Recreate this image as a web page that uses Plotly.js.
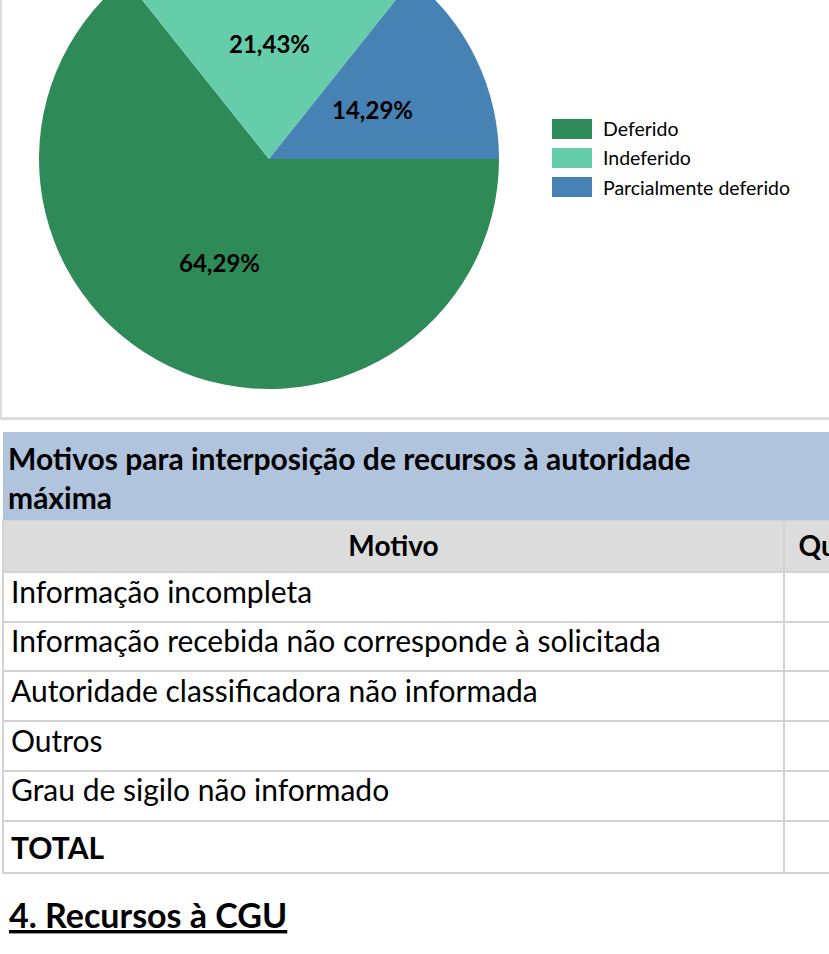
<!DOCTYPE html>
<html><head><meta charset="utf-8">
<script src="https://cdn.plot.ly/plotly-3.0.1.min.js"></script>
<style>
html,body{margin:0;padding:0;width:829px;height:954px;overflow:hidden;background:#fff;}
#chart{position:absolute;left:0;top:-71px;width:1000px;height:1025px;}
</style></head><body><div id="chart"></div>
<script>
// ---- data ----
const statusLabels = ['Deferido', 'Indeferido', 'Parcialmente deferido'];
const statusValues = [9, 3, 2];
const statusColors = ['#2e8b57', '#66cdaa', '#4682b4'];
const tableTitle = 'Motivos para interposição de recursos à autoridade<br>máxima';
const columnHeaders = ['Motivo', 'Quantidade'];
const motivos = ['Informação incompleta', 'Informação recebida não corresponde à solicitada',
  'Autoridade classificadora não informada', 'Outros', 'Grau de sigilo não informado', '<b>TOTAL</b>'];
const quantidades = ['', '', '', '', '', ''];
const sectionHeading = '4. Recursos à CGU';

// ---- layout helpers (page px -> paper) ----
const W = 1000, H = 1025, T = 71;
const px = x => x / W, py = y => 1 - (y + T) / H;
const FONT = 'Lato, "Open Sans", sans-serif';

// pie geometry (page px)
const PIE_L = 39, PIE_R = 499, PIE_T = -71, PIE_B = 389;
const pcx = (PIE_L + PIE_R) / 2, pcy = (PIE_T + PIE_B) / 2, pr = (PIE_R - PIE_L) / 2;

const pie = {
  type: 'pie', labels: statusLabels, values: statusValues,
  marker: {colors: statusColors, line: {width: 0}},
  sort: false, direction: 'clockwise', rotation: 90,
  textinfo: 'none',
  domain: {x: [px(PIE_L), px(PIE_R)], y: [py(PIE_B), py(PIE_T)]},
  showlegend: false, hoverinfo: 'none'
};

const table = {
  type: 'table',
  domain: {x: [px(3), px(960)], y: [py(876), py(520)]},
  columnwidth: [781, 176],
  header: {values: columnHeaders.map(h => '<b>' + h + '</b>'), align: 'center', height: 52,
    fill: {color: '#dcdcdc'}, line: {color: '#d3d3d3', width: 2},
    font: {family: FONT, size: 28, color: '#000'}},
  cells: {values: [motivos, quantidades], align: ['left', 'center'], height: 49.7,
    fill: {color: '#fff'}, line: {color: '#d3d3d3', width: 2},
    font: {family: FONT, size: 30, color: '#000'}}
};

const shapes = [
  {type: 'line', xref: 'paper', yref: 'paper', x0: px(1), x1: px(1), y0: py(-71), y1: py(418), line: {color: '#dcdcdc', width: 2}},
  {type: 'line', xref: 'paper', yref: 'paper', x0: 0, x1: 1, y0: py(418.5), y1: py(418.5), line: {color: '#dcdcdc', width: 3}},
  {type: 'rect', xref: 'paper', yref: 'paper', x0: px(3), x1: 1, y0: py(520), y1: py(432), fillcolor: '#b0c4de', line: {width: 0}}
];
const annotations = [
  {xref: 'paper', yref: 'paper', x: px(6), y: py(438), xanchor: 'left', yanchor: 'top', align: 'left', showarrow: false,
    text: '<b>' + tableTitle + '</b>', font: {family: FONT, size: 30, color: '#000'}},
  {xref: 'paper', yref: 'paper', x: px(7), y: py(914), xanchor: 'left', yanchor: 'middle', showarrow: false,
    text: '<b><u>' + sectionHeading + '</u></b>', font: {family: FONT, size: 34, color: '#000'}}
];

// percentage labels placed at half radius on each slice's mid angle (clockwise from 3 o'clock)
const total = statusValues.reduce((a, b) => a + b, 0);
let cum = 0;
statusValues.forEach((v, i) => {
  const mid = -2 * Math.PI * (cum + v / 2) / total;
  cum += v;
  const lx = pcx + 0.5 * pr * Math.cos(mid), ly = pcy - 0.5 * pr * Math.sin(mid);
  annotations.push({xref: 'paper', yref: 'paper', x: px(lx), y: py(ly), xanchor: 'center', yanchor: 'middle', showarrow: false,
    text: '<b>' + (v / total * 100).toFixed(2).replace('.', ',') + '%</b>', font: {family: FONT, size: 24, color: '#000'}});
});

statusLabels.forEach((lab, i) => {
  const yc = 129 + i * 29;
  shapes.push({type: 'rect', xref: 'paper', yref: 'paper', x0: px(552), x1: px(592), y0: py(yc + 10), y1: py(yc - 10),
    fillcolor: statusColors[i], line: {width: 0}});
  annotations.push({xref: 'paper', yref: 'paper', x: px(601), y: py(yc), xanchor: 'left', yanchor: 'middle', showarrow: false,
    text: lab, font: {family: FONT, size: 19.5, color: '#000'}});
});

Plotly.newPlot('chart', [pie, table], {
  width: W, height: H, margin: {l: 0, r: 0, t: 0, b: 0},
  paper_bgcolor: '#fff', separators: ',.', showlegend: false,
  shapes: shapes, annotations: annotations
}, {displayModeBar: false, staticPlot: true});
</script></body></html>
